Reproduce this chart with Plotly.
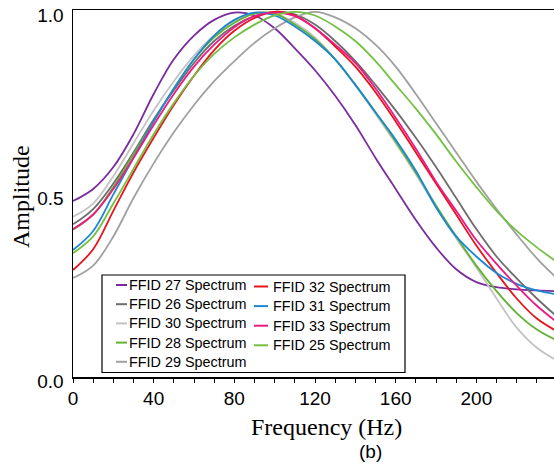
import plotly.graph_objects as go

freq = [0, 10, 20, 30, 40, 50, 60, 70, 80, 90, 100, 110, 120,
        130, 140, 150, 160, 170, 180, 190, 200, 210, 220, 230, 240]

ffid27 = [0.482, 0.515, 0.575, 0.665, 0.775, 0.87, 0.935, 0.978, 0.998, 0.99, 0.955, 0.90, 0.84,
          0.77, 0.69, 0.60, 0.515, 0.43, 0.355, 0.295, 0.26, 0.246, 0.24, 0.237, 0.235]
ffid26 = [0.418, 0.46, 0.53, 0.615, 0.705, 0.785, 0.86, 0.92, 0.962, 0.988, 1.0, 0.993, 0.965,
          0.92, 0.865, 0.80, 0.73, 0.655, 0.575, 0.49, 0.405, 0.33, 0.27, 0.215, 0.165]
ffid30 = [0.439, 0.475, 0.55, 0.64, 0.73, 0.81, 0.88, 0.935, 0.975, 0.996, 0.995, 0.97, 0.93,
          0.87, 0.80, 0.72, 0.64, 0.555, 0.465, 0.38, 0.30, 0.215, 0.135, 0.08, 0.045]
ffid28 = [0.403, 0.445, 0.52, 0.61, 0.70, 0.79, 0.87, 0.93, 0.97, 0.995, 0.995, 0.965, 0.925,
          0.87, 0.80, 0.725, 0.645, 0.56, 0.47, 0.385, 0.305, 0.235, 0.175, 0.13, 0.10]
ffid29 = [0.271, 0.305, 0.385, 0.49, 0.585, 0.67, 0.745, 0.81, 0.865, 0.915, 0.955, 0.985, 1.0,
          0.985, 0.955, 0.91, 0.85, 0.775, 0.695, 0.615, 0.535, 0.46, 0.39, 0.325, 0.27]
ffid32 = [0.293, 0.35, 0.455, 0.56, 0.655, 0.745, 0.825, 0.895, 0.948, 0.983, 1.0, 0.99, 0.955,
          0.905, 0.85, 0.78, 0.70, 0.615, 0.53, 0.445, 0.36, 0.285, 0.215, 0.16, 0.125]
ffid31 = [0.348, 0.40, 0.50, 0.60, 0.70, 0.79, 0.87, 0.935, 0.978, 0.998, 0.99, 0.96, 0.92,
          0.87, 0.80, 0.725, 0.65, 0.565, 0.465, 0.385, 0.33, 0.285, 0.255, 0.237, 0.226]
ffid33 = [0.405, 0.445, 0.515, 0.60, 0.69, 0.775, 0.85, 0.91, 0.958, 0.988, 0.998, 0.988, 0.955,
          0.91, 0.86, 0.79, 0.71, 0.625, 0.535, 0.455, 0.375, 0.31, 0.25, 0.195, 0.15]
ffid25 = [0.339, 0.385, 0.475, 0.57, 0.665, 0.75, 0.825, 0.885, 0.93, 0.965, 0.99, 1.0, 0.99,
          0.96, 0.92, 0.865, 0.80, 0.735, 0.665, 0.59, 0.52, 0.455, 0.40, 0.355, 0.315]

names_col1 = ["FFID 27 Spectrum", "FFID 26 Spectrum", "FFID 30 Spectrum", "FFID 28 Spectrum", "FFID 29 Spectrum"]
names_col2 = ["FFID 32 Spectrum", "FFID 31 Spectrum", "FFID 33 Spectrum", "FFID 25 Spectrum"]
series_col1 = [ffid27, ffid26, ffid30, ffid28, ffid29]
series_col2 = [ffid32, ffid31, ffid33, ffid25]
colors_col1 = ["#7a2c9e", "#6d6d6d", "#c3c3c3", "#62b232", "#a0a0a0"]
colors_col2 = ["#e8141c", "#1d88d2", "#ec1a84", "#74c043"]

x_ticks = [0, 40, 80, 120, 160, 200]
y_ticks = [0.0, 0.5, 1.0]
y_tick_labels = ["0.0", "0.5", "1.0"]

SANS = "Liberation Sans, Arial, sans-serif"
SERIF = "Liberation Serif, Times New Roman, serif"

W, H = 554, 464
ML, MT, MB = 73, 10, 87
PW, PH = W - ML, H - MT - MB


def px(xp):
    return (xp - ML) / PW


def py(yp):
    return (H - MB - yp) / PH


fig = go.Figure()
for names, series, colors in [(names_col1, series_col1, colors_col1),
                              (names_col2, series_col2, colors_col2)]:
    for n, s, c in zip(names, series, colors):
        fig.add_trace(go.Scatter(x=freq, y=s, mode="lines", name=n, showlegend=False,
                                 hoverinfo="skip",
                                 line=dict(color=c, width=1.8, shape="spline", smoothing=1.0)))

shapes = []
annotations = []
# legend box
shapes.append(dict(type="rect", xref="paper", yref="paper", x0=px(102), x1=px(405),
                   y0=py(372.5), y1=py(275), line=dict(color="black", width=1.2),
                   fillcolor="white", layer="above"))
for i, (n, c) in enumerate(zip(names_col1, colors_col1)):
    yy = 285 + 19.2 * i
    shapes.append(dict(type="line", xref="paper", yref="paper", x0=px(116), x1=px(127),
                       y0=py(yy), y1=py(yy), line=dict(color=c, width=2), layer="above"))
    annotations.append(dict(text=n, xref="paper", yref="paper", x=px(127), y=py(yy),
                            xanchor="left", yanchor="middle", showarrow=False,
                            font=dict(family=SANS, size=14.4, color="black")))
for i, (n, c) in enumerate(zip(names_col2, colors_col2)):
    yy = 286.5 + 19.6 * i
    shapes.append(dict(type="line", xref="paper", yref="paper", x0=px(254), x1=px(268),
                       y0=py(yy), y1=py(yy), line=dict(color=c, width=2), layer="above"))
    annotations.append(dict(text=n, xref="paper", yref="paper", x=px(271), y=py(yy),
                            xanchor="left", yanchor="middle", showarrow=False,
                            font=dict(family=SANS, size=14.4, color="black")))

annotations.append(dict(text="Frequency (Hz)", xref="paper", yref="paper", x=px(326), y=py(427),
                        xanchor="center", yanchor="middle", showarrow=False,
                        font=dict(family=SERIF, size=24, color="black")))
annotations.append(dict(text="(b)", xref="paper", yref="paper", x=px(370), y=py(451),
                        xanchor="center", yanchor="middle", showarrow=False,
                        font=dict(family=SANS, size=19, color="black")))
annotations.append(dict(text="Amplitude", xref="paper", yref="paper", x=px(21), y=py(197),
                        xanchor="center", yanchor="middle", showarrow=False, textangle=-90,
                        font=dict(family=SERIF, size=24, color="black")))

fig.update_layout(
    width=W, height=H,
    margin=dict(l=ML, r=0, t=MT, b=MB, pad=0),
    paper_bgcolor="white", plot_bgcolor="white",
    showlegend=False, hovermode=False,
    shapes=shapes, annotations=annotations,
    xaxis=dict(range=[0, 238.5], tickmode="array", tickvals=x_ticks,
               ticks="outside", ticklen=4, tickwidth=1, tickcolor="black",
               minor=dict(dtick=10, ticks="outside", ticklen=4, tickwidth=1, tickcolor="black"),
               showline=True, linecolor="black", linewidth=1.5, mirror=True,
               showgrid=False, zeroline=False,
               tickfont=dict(family=SANS, size=19, color="black")),
    yaxis=dict(range=[0, 1.005], tickmode="array", tickvals=y_ticks, ticktext=y_tick_labels,
               ticks="", showline=True, linecolor="black", linewidth=1.5, mirror=False,
               showgrid=False, zeroline=False, ticklabelstandoff=4, ticklabeloverflow="allow",
               ticklabelshift=4,
               tickfont=dict(family=SANS, size=19, color="black")),
)

fig.write_html("out.html",
               config={"displayModeBar": False, "staticPlot": True},
               post_script="document.body.style.margin='0';"
                           "document.documentElement.style.overflow='hidden';")
